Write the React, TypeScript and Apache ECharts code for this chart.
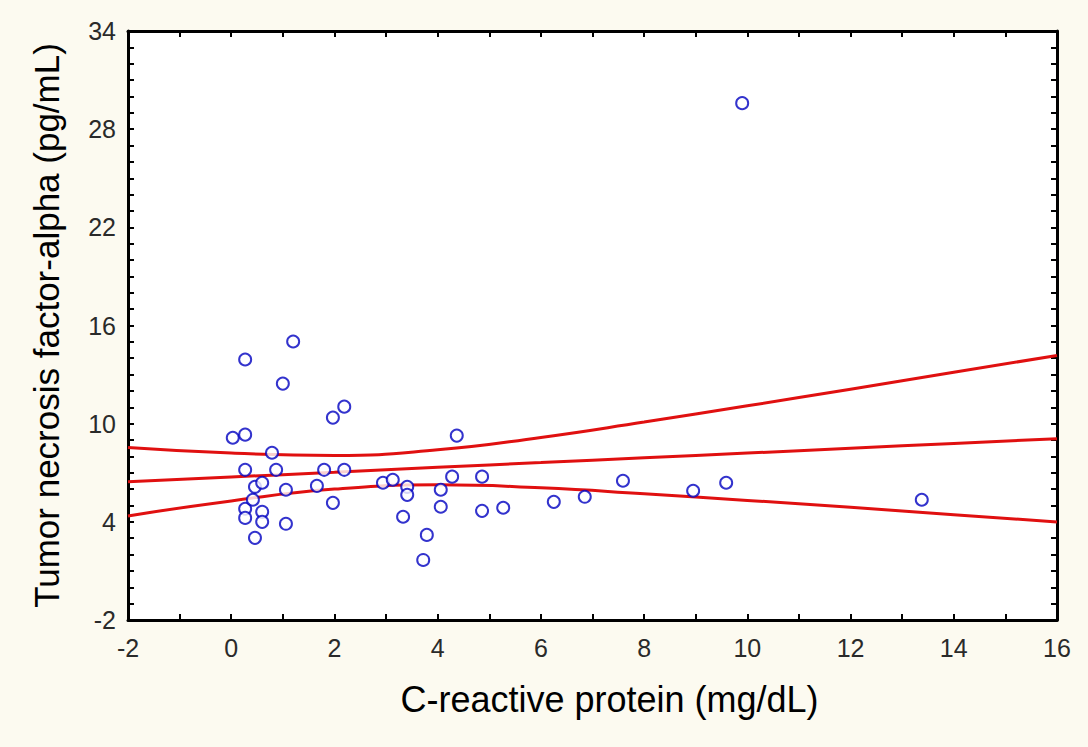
import React, { useEffect, useRef } from "react";
import * as echarts from "echarts";

// C-reactive protein (mg/dL) vs TNF-alpha (pg/mL)
const crpValues = [
  9.9, 1.2, 0.27, 1.0, 2.19, 1.97, 4.37, 0.03, 0.27, 0.79,
  0.27, 0.87, 1.8, 2.19, 0.46, 0.6, 1.06, 1.66, 1.97, 0.27,
  0.27, 0.6, 0.6, 0.42, 0.46, 1.06, 2.94, 3.13, 3.41, 3.41,
  3.33, 3.79, 3.72, 4.28, 4.06, 4.06, 4.86, 4.86, 5.27, 6.25,
  6.85, 7.59, 8.95, 9.59, 13.38,
];
const tnfValues = [
  29.59, 15.02, 13.92, 12.45, 11.04, 10.37, 9.27, 9.14, 9.33, 8.22,
  7.18, 7.18, 7.18, 7.18, 6.14, 6.39, 5.96, 6.2, 5.16, 4.8,
  4.24, 4.61, 4.0, 5.35, 3.02, 3.88, 6.39, 6.57, 6.14, 5.65,
  4.31, 3.2, 1.67, 6.76, 5.96, 4.92, 6.76, 4.67, 4.86, 5.22,
  5.53, 6.51, 5.9, 6.39, 5.35,
];

// regression line and 95% confidence band
const lineX = [-2, 0, 2, 4, 6, 8, 10, 12, 14, 16];
const fitMid = [6.45, 6.74, 7.03, 7.33, 7.62, 7.91, 8.2, 8.5, 8.79, 9.08];
const fitUpper = [8.54, 8.2, 8.06, 8.4, 9.16, 10.1, 11.09, 12.11, 13.14, 14.17];
const fitLower = [4.36, 5.28, 6.0, 6.26, 6.08, 5.72, 5.31, 4.89, 4.44, 3.99];

// axis ticks / labels
const xTickValues = [-2, -1, 0, 1, 2, 3, 4, 5, 6, 7, 8, 9, 10, 11, 12, 13, 14, 15, 16];
const yLabelValues = [-2, 4, 10, 16, 22, 28, 34];
const yTickValues = [
  -2, -1, 0, 1, 2, 3, 4, 5, 6, 7, 8, 9, 10, 11, 12, 13, 14, 15, 16, 17, 18,
  19, 20, 21, 22, 23, 24, 25, 26, 27, 28, 29, 30, 31, 32, 33, 34,
];

const xName = "C-reactive protein (mg/dL)";
const yName = "Tumor necrosis factor-alpha (pg/mL)";

const FONT = "Liberation Sans, Arial, sans-serif";

export default function App() {
  const ref = useRef<HTMLDivElement>(null);

  useEffect(() => {
    if (!ref.current) return;
    const chart = echarts.init(ref.current, null, { renderer: "svg" });

    const axisLine = { show: true, onZero: false, lineStyle: { color: "#000", width: 3 } };
    const tick = (vals: number[]) => ({
      show: true,
      inside: true,
      length: 6,
      customValues: vals,
      lineStyle: { color: "#000", width: 2 },
    });
    const labelStyle = {
      fontSize: 25,
      color: "#2a2a2a",
      fontFamily: FONT,
    };

    const lineData = (ys: number[]) => lineX.map((x, i) => [x, ys[i]]);
    const lineSeries = (name: string, ys: number[]) => ({
      name,
      type: "line",
      data: lineData(ys),
      smooth: true,
      showSymbol: false,
      symbol: "none",
      lineStyle: { color: "#E01010", width: 3 },
      z: 2,
    });

    chart.setOption({
      animation: false,
      backgroundColor: "#FCFAF0",
      textStyle: { fontFamily: FONT },
      grid: {
        left: 128,
        right: 31,
        top: 31,
        bottom: 127,
        show: true,
        backgroundColor: "#ffffff",
        borderWidth: 0,
        containLabel: false,
        outerBoundsMode: "none",
      },
      xAxis: [
        {
          type: "value",
          min: -2,
          max: 16,
          interval: 2,
          position: "bottom",
          axisLine,
          axisTick: tick(xTickValues),
          splitLine: { show: false },
          axisLabel: { ...labelStyle, margin: 15 },
          name: xName,
          nameLocation: "middle",
          nameGap: 61,
          nameTextStyle: {
            color: "#000",
            fontSize: 36,
            fontFamily: FONT,
            padding: [0, 0, 0, 34],
          },
        },
        {
          type: "value",
          min: -2,
          max: 16,
          interval: 2,
          position: "top",
          axisLine,
          axisTick: tick(xTickValues),
          splitLine: { show: false },
          axisLabel: { show: false },
        },
      ],
      yAxis: [
        {
          type: "value",
          min: -2,
          max: 34,
          position: "left",
          axisLine,
          axisTick: tick(yTickValues),
          splitLine: { show: false },
          axisLabel: { ...labelStyle, margin: 12, customValues: yLabelValues },
          name: yName,
          nameLocation: "middle",
          nameGap: 64,
          nameTextStyle: { color: "#000", fontSize: 35, fontFamily: FONT },
        },
        {
          type: "value",
          min: -2,
          max: 34,
          position: "right",
          axisLine,
          axisTick: tick(yTickValues),
          splitLine: { show: false },
          axisLabel: { show: false },
        },
      ],
      series: [
        lineSeries("Upper 95%", fitUpper),
        lineSeries("Fit", fitMid),
        lineSeries("Lower 95%", fitLower),
        {
          name: "Patients",
          type: "scatter",
          data: crpValues.map((x, i) => [x, tnfValues[i]]),
          symbol: "emptyCircle",
          symbolSize: 12,
          itemStyle: { color: "#0000C0", borderColor: "#0000C0", borderWidth: 3.2 },
          z: 3,
        },
      ],
    });

    return () => chart.dispose();
  }, []);

  return (
    <div
      ref={ref}
      style={{ position: "fixed", left: 0, top: 0, width: 1088, height: 747 }}
    />
  );
}
